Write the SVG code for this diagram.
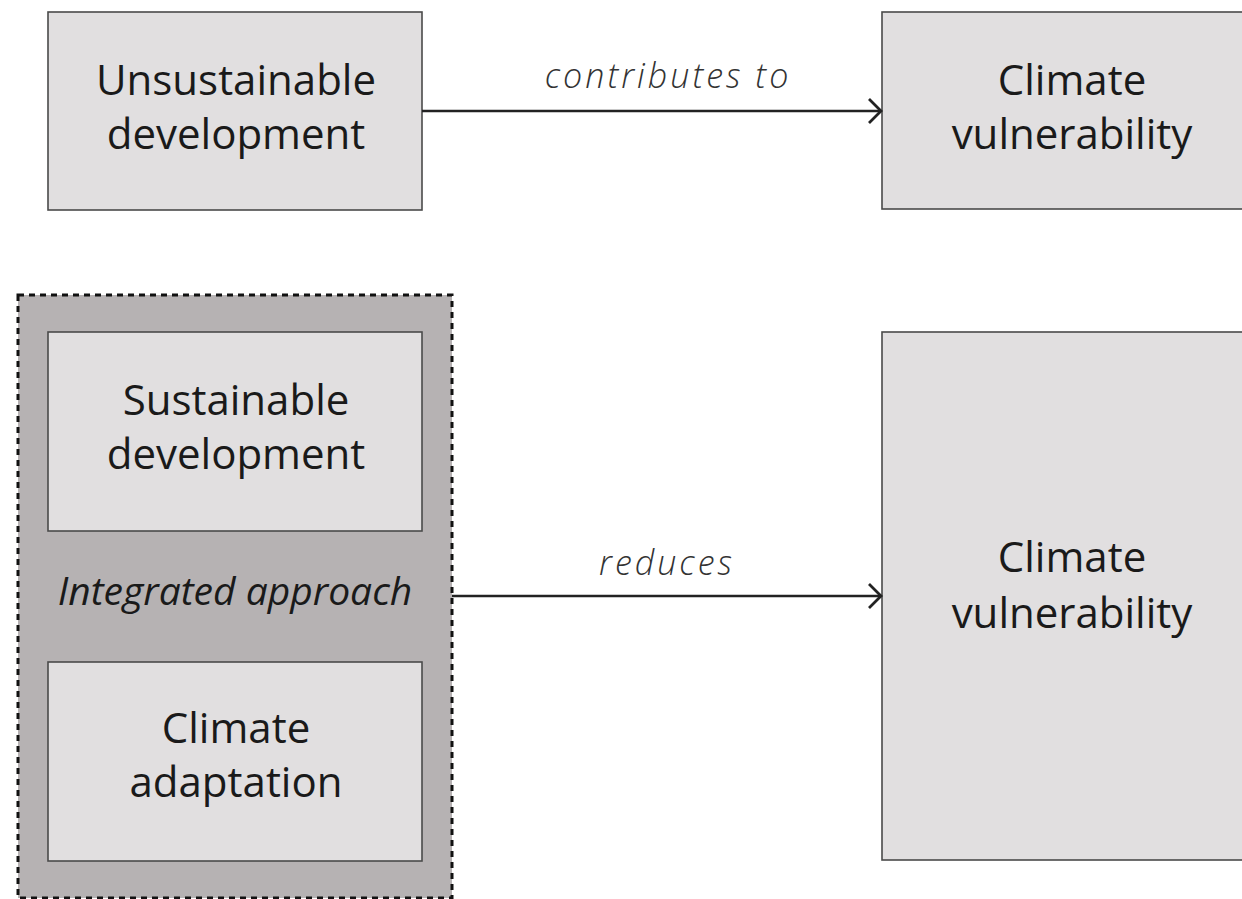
<svg xmlns="http://www.w3.org/2000/svg" width="1242" height="899" viewBox="0 0 1242 899">
<defs>
<style>
.box{fill:#e1dfe0;stroke:#4a4a4a;stroke-width:1.6}
.grp{fill:#b6b2b3;stroke:#111;stroke-width:3;stroke-dasharray:6 5}
.t{font-family:"Open Sans","Noto Sans",sans-serif;font-size:42px;fill:#1a1a1a;text-anchor:middle}
.lbl{font-family:"Open Sans","Noto Sans",sans-serif;font-size:34px;font-style:italic;font-weight:300;fill:#333;text-anchor:middle;letter-spacing:3px}
.grpl{font-family:"Open Sans","Noto Sans",sans-serif;font-size:39px;font-style:italic;fill:#1a1a1a;text-anchor:middle}
.edge{stroke:#222;stroke-width:2.5;fill:none}
</style>
<marker id="arr" markerWidth="16" markerHeight="28" refX="14" refY="14" orient="auto" markerUnits="userSpaceOnUse">
<path d="M2,2 L14,14 L2,26" fill="none" stroke="#222" stroke-width="2.8"/>
</marker>
</defs>
<rect width="1242" height="899" fill="#fff"/>
<g id="unsustainable">
<rect class="box" x="48" y="12" width="374" height="198"/>
<text class="t" x="236" y="95">Unsustainable</text>
<text class="t" x="236" y="149">development</text>
</g>
<g id="vuln-top">
<rect class="box" x="882" y="12" width="370" height="197"/>
<text class="t" x="1072" y="95">Climate</text>
<text class="t" x="1072" y="149">vulnerability</text>
</g>
<g id="integrated">
<rect class="grp" x="18" y="295" width="434" height="603"/>
<text class="grpl" x="235" y="605">Integrated approach</text>
</g>
<g id="sustainable">
<rect class="box" x="48" y="332" width="374" height="199"/>
<text class="t" x="236" y="415">Sustainable</text>
<text class="t" x="236" y="469">development</text>
</g>
<g id="adaptation">
<rect class="box" x="48" y="662" width="374" height="199"/>
<text class="t" x="236" y="743">Climate</text>
<text class="t" x="236" y="797">adaptation</text>
</g>
<g id="vuln-bottom">
<rect class="box" x="882" y="332" width="370" height="528"/>
<text class="t" x="1072" y="572">Climate</text>
<text class="t" x="1072" y="628">vulnerability</text>
</g>
<g id="connectors">
<line class="edge" x1="422" y1="111" x2="881" y2="111" marker-end="url(#arr)"/>
<text class="lbl" x="668" y="88">contributes to</text>
<line class="edge" x1="452" y1="596" x2="881" y2="596" marker-end="url(#arr)"/>
<text class="lbl" x="667" y="575">reduces</text>
</g>
</svg>
